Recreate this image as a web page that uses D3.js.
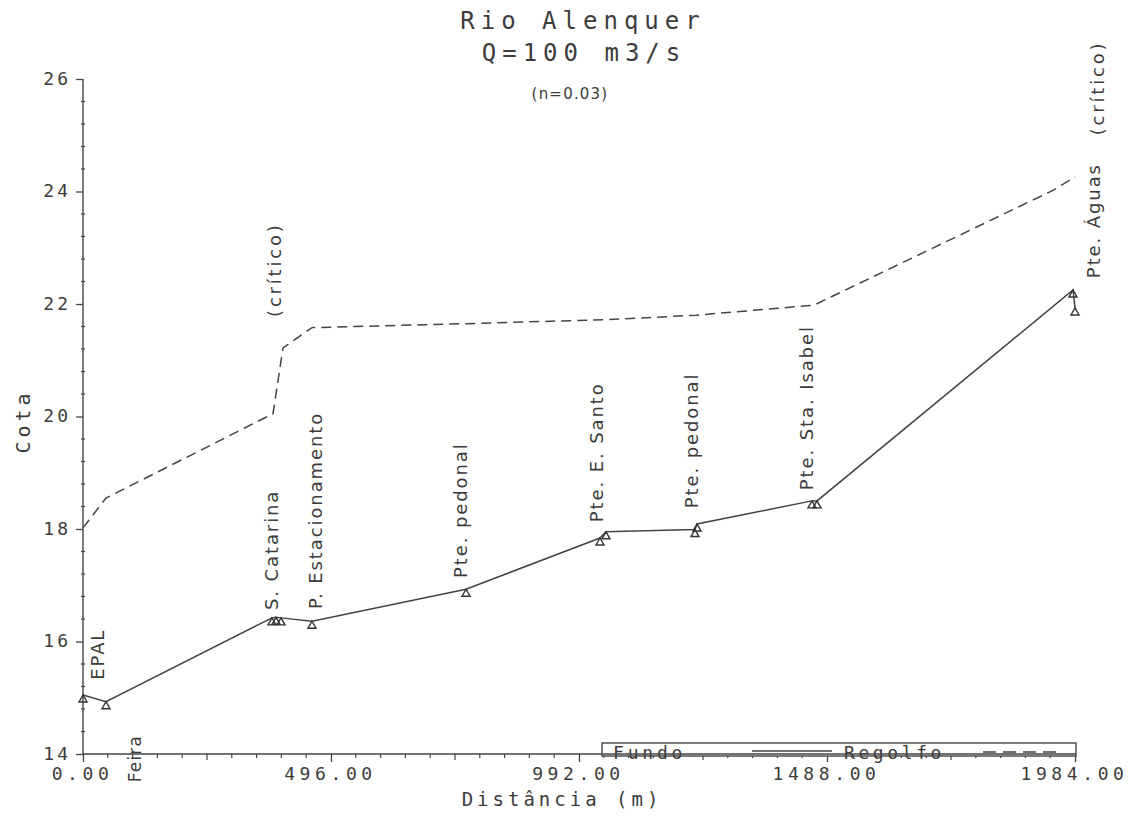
<!DOCTYPE html>
<html>
<head>
<meta charset="utf-8">
<script src="https://cdn.jsdelivr.net/npm/d3@7"></script>
<style>
  html, body { margin: 0; padding: 0; background: #fff; }
  svg { display: block; }
  .mono { font-family: "DejaVu Sans Mono", "Liberation Mono", monospace; fill: #3c3c3c; }
  .lbl { font-family: "DejaVu Sans", "Noto Sans", sans-serif; fill: #3c3c3c; }
</style>
</head>
<body>
<svg id="chart" width="1131" height="820"></svg>
<script>
// River bed profile (Fundo): distance along the reach (m) and bed elevation (m)
const fundoDist = [0, 46, 378, 386, 396, 458, 766, 1034, 1046, 1224, 1228, 1458, 1468, 1980, 1984];
const fundoCota = [15.05, 14.93, 16.42, 16.43, 16.42, 16.36, 16.93, 17.84, 17.95, 17.99, 18.09, 18.50, 18.50, 22.25, 21.93];

// Backwater water surface (Regolfo)
const regolfoDist = [0, 46, 380, 400, 458, 766, 1040, 1226, 1462, 1940, 1984];
const regolfoCota = [18.02, 18.55, 20.05, 21.22, 21.58, 21.65, 21.72, 21.80, 21.98, 24.02, 24.26];

// Cross-section names with the distance / elevation where each name starts
const stationNames = ["EPAL", "S. Catarina", "P. Estacionamento", "Pte. pedonal", "Pte. E. Santo", "Pte. pedonal", "Pte. Sta. Isabel", "Pte. Águas"];
const stationDist  = [42, 390, 478, 768, 1040, 1230, 1460, 2034];
const stationCota  = [15.32, 16.56, 16.58, 17.13, 18.12, 18.37, 18.69, 22.46];

// Name written under the bed line (reads upward, ends at the given elevation)
const belowNames = ["Feira"];
const belowDist  = [116];
const belowCota  = [14.34];

// Critical-depth notes
const critNames = ["(crítico)", "(crítico)"];
const critDist  = [396, 2042];
const critCota  = [21.77, 25.0];

// Axis ticks
const xTicks = [0, 496, 992, 1488, 1984];
const yTicks = [14, 16, 18, 20, 22, 24, 26];

const titleLines = ["Rio Alenquer", "Q=100 m3/s"];
const subTitle = "(n=0.03)";
const xTitle = "Distância (m)";
const yTitle = "Cota";
const legendNames = ["Fundo", "Regolfo"];

const svg = d3.select("#chart");
const ink = "#444";

const x = d3.scaleLinear().domain([0, 1984]).range([83, 1075]);
const y = d3.scaleLinear().domain([14, 26]).range([754, 79]);

// ---- title block
svg.append("text").attr("class", "mono")
  .attr("x", 583).attr("y", 29).attr("text-anchor", "middle")
  .attr("font-size", 24).attr("letter-spacing", 6)
  .text(titleLines[0]);
svg.append("text").attr("class", "mono")
  .attr("x", 584).attr("y", 61).attr("text-anchor", "middle")
  .attr("font-size", 24).attr("letter-spacing", 6)
  .text(titleLines[1]);
svg.append("text").attr("class", "lbl")
  .attr("x", 570).attr("y", 99).attr("text-anchor", "middle")
  .attr("font-size", 15).attr("letter-spacing", 1.2)
  .text(subTitle);

// ---- axes
const gx = svg.append("g").attr("transform", `translate(0,${y(14)})`)
  .call(d3.axisBottom(x).tickValues(xTicks).tickSize(8).tickFormat(d3.format(".2f")));
gx.select(".domain").attr("stroke", ink).attr("stroke-width", 1.4).attr("d", `M${x(0)},0H${x(1984)}`);
gx.selectAll(".tick line").attr("stroke", ink).attr("stroke-width", 1.3);
gx.selectAll(".tick text").attr("class", "mono").attr("font-size", 18).attr("letter-spacing", 4.6)
  .attr("fill", "#3c3c3c").attr("y", 13).attr("dx", -1);

// minor x ticks every 49.6 m, a longer one half way between labels
const xMinor = d3.range(0, 1984.01, 49.6).filter(v => Math.abs(v / 496 - Math.round(v / 496)) > 1e-6);
svg.append("g").selectAll("line").data(xMinor).join("line")
  .attr("x1", d => x(d)).attr("x2", d => x(d))
  .attr("y1", y(14))
  .attr("y2", d => y(14) + (Math.abs(d / 248 - Math.round(d / 248)) < 1e-6 ? 6 : 4))
  .attr("stroke", ink).attr("stroke-width", 1.2);

const gy = svg.append("g").attr("transform", `translate(${x(0)},0)`)
  .call(d3.axisLeft(y).tickValues(yTicks).tickSize(7).tickFormat(d3.format("d")));
gy.select(".domain").attr("stroke", ink).attr("stroke-width", 1.4).attr("d", `M0,${y(14)}V${y(26)}`);
gy.selectAll(".tick line").attr("stroke", ink).attr("stroke-width", 1.3);
gy.selectAll(".tick text").attr("class", "mono").attr("font-size", 18).attr("letter-spacing", 3)
  .attr("fill", "#3c3c3c").attr("x", -12).attr("dy", "0.3em");

const yMinor = d3.range(14, 26.001, 0.4).filter(v => Math.abs(v / 2 - Math.round(v / 2)) > 1e-6);
svg.append("g").selectAll("line").data(yMinor).join("line")
  .attr("x1", x(0) - 2).attr("x2", x(0) + 2)
  .attr("y1", d => y(d)).attr("y2", d => y(d))
  .attr("stroke", ink).attr("stroke-width", 1.2);

svg.append("text").attr("class", "mono")
  .attr("x", 562).attr("y", 806).attr("text-anchor", "middle")
  .attr("font-size", 19).attr("letter-spacing", 4)
  .text(xTitle);
svg.append("text").attr("class", "mono")
  .attr("transform", `translate(30,${y(20) + 5}) rotate(-90)`)
  .attr("text-anchor", "middle")
  .attr("font-size", 20).attr("letter-spacing", 4)
  .text(yTitle);

// ---- series
const fundo = fundoDist.map((d, i) => [d, fundoCota[i]]);
const regolfo = regolfoDist.map((d, i) => [d, regolfoCota[i]]);
const line = d3.line().x(d => x(d[0])).y(d => y(d[1]));

svg.append("path").datum(regolfo)
  .attr("d", line).attr("fill", "none")
  .attr("stroke", ink).attr("stroke-width", 1.5)
  .attr("stroke-dasharray", "10,6");

svg.append("path").datum(fundo)
  .attr("d", line).attr("fill", "none")
  .attr("stroke", ink).attr("stroke-width", 1.5);

// section markers: small open triangles with the apex on the bed point
const tri = "M0,0L4,7L-4,7Z";
svg.append("g").selectAll("path").data(fundo).join("path")
  .attr("transform", d => `translate(${x(d[0])},${y(d[1])})`)
  .attr("d", tri).attr("fill", "none").attr("stroke", "#333").attr("stroke-width", 1.4);

// ---- section names (vertical, reading upward)
function vlabel(names, dists, cotas, anchor, size, spacing) {
  svg.append("g").selectAll("text").data(names).join("text")
    .attr("class", "lbl")
    .attr("transform", (d, i) => `translate(${x(dists[i])},${y(cotas[i])}) rotate(-90)`)
    .attr("text-anchor", anchor)
    .attr("font-size", size).attr("letter-spacing", spacing)
    .text(d => d);
}
vlabel(stationNames, stationDist, stationCota, "start", 18, 1.9);
vlabel(belowNames, belowDist, belowCota, "end", 17, 1.2);
vlabel(critNames, critDist, critCota, "start", 18, 2.8);

// ---- legend
const lg = svg.append("g");
lg.append("rect").attr("x", 602).attr("y", 743).attr("width", 474).attr("height", 13)
  .attr("fill", "#fff").attr("stroke", ink).attr("stroke-width", 1.4);
lg.append("text").attr("class", "mono").attr("x", 613).attr("y", 759)
  .attr("font-size", 18).attr("letter-spacing", 3.8).text(legendNames[0]);
lg.append("line").attr("x1", 752).attr("x2", 832).attr("y1", 751).attr("y2", 751)
  .attr("stroke", ink).attr("stroke-width", 1.4);
lg.append("text").attr("class", "mono").attr("x", 844).attr("y", 759)
  .attr("font-size", 18).attr("letter-spacing", 3.6).text(legendNames[1]);
lg.append("line").attr("x1", 983).attr("x2", 1058).attr("y1", 752).attr("y2", 752)
  .attr("stroke", ink).attr("stroke-width", 1.4).attr("stroke-dasharray", "13,7");
// the axis line runs across the bottom of the legend box
lg.append("line").attr("x1", 602).attr("x2", 1076).attr("y1", y(14)).attr("y2", y(14))
  .attr("stroke", ink).attr("stroke-width", 1.4);
</script>
</body>
</html>
